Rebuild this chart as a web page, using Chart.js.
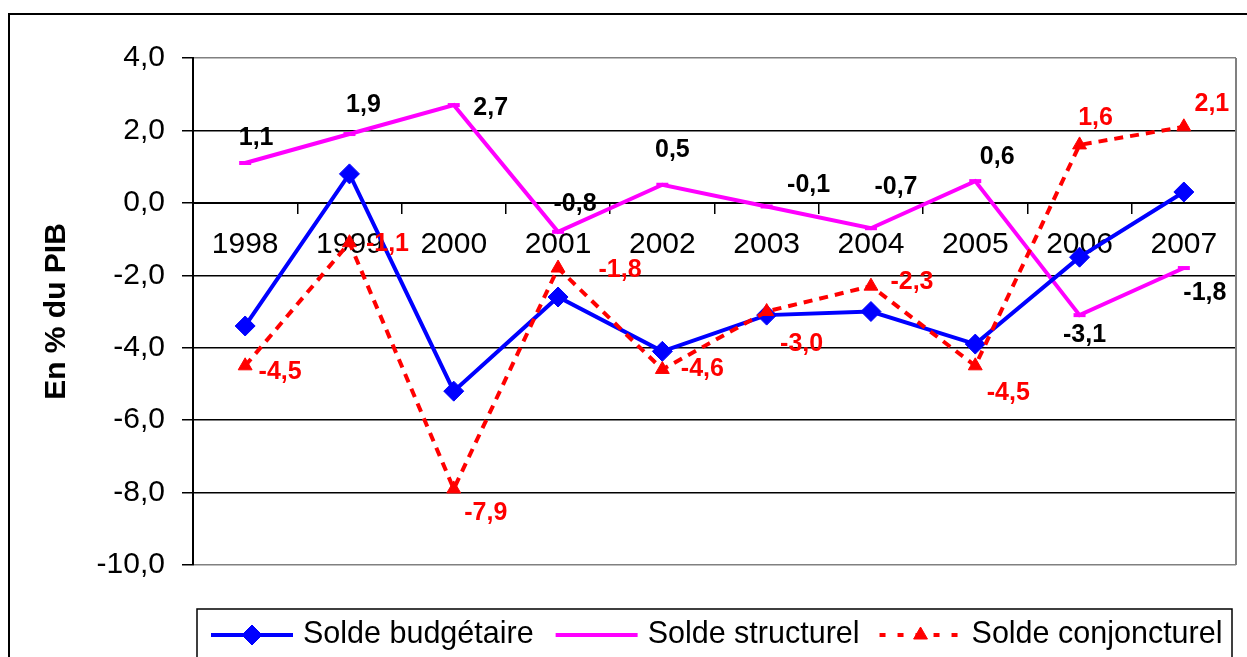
<!DOCTYPE html>
<html>
<head>
<meta charset="utf-8">
<script src="https://cdn.jsdelivr.net/npm/chart.js@4/dist/chart.umd.min.js"></script>
<style>
  html, body { margin: 0; padding: 0; background: #fff; }
  canvas { display: block; }
</style>
</head>
<body>
<canvas id="c" width="1247" height="657"></canvas>
<script>
// ---- Data ----
const categories = ['1998', '1999', '2000', '2001', '2002', '2003', '2004', '2005', '2006', '2007'];
const soldeBudgetaire = [-3.4, 0.8, -5.2, -2.6, -4.1, -3.1, -3.0, -3.9, -1.5, 0.3];
const soldeStructurel = [1.1, 1.9, 2.7, -0.8, 0.5, -0.1, -0.7, 0.6, -3.1, -1.8];
const soldeConjoncturel = [-4.5, -1.1, -7.9, -1.8, -4.6, -3.0, -2.3, -4.5, 1.6, 2.1];
const seriesNames = ['Solde budgétaire', 'Solde structurel', 'Solde conjoncturel'];
const yAxisTitle = 'En % du PIB';
const yMin = -10, yMax = 4, yStep = 2;

// ---- Label placement (presentation only) ----
const structLabelOffsets = [[11,-25],[14,-29],[37,3],[17,-28],[10,-35],[42,-21],[25,-41],[22,-24],[5,20],[21,25]];
const conjLabelOffsets = [[35,6],[38,1],[32,24],[62,2],[40,0],[35,33],[41,-4],[33,27],[16,-27],[28,-23]];
const legendGaps = [22, 20, 0];

const FONT = "'Liberation Sans', Arial, sans-serif";
Chart.defaults.font.family = FONT;
Chart.defaults.color = '#000';

const fmt = v => v.toFixed(1).replace('.', ',');

const frameAndLegend = {
  id: 'frameAndLegend',
  beforeDraw(chart) {
    const ctx = chart.ctx;
    ctx.save();
    ctx.fillStyle = '#fff';
    ctx.fillRect(0, 0, chart.width, chart.height);
    ctx.strokeStyle = '#000';
    ctx.lineWidth = 2;
    ctx.strokeRect(9, 14, chart.width + 20, chart.height + 20);
    ctx.restore();
  },
  beforeDatasetsDraw(chart) {
    const ctx = chart.ctx, a = chart.chartArea;
    ctx.save();
    ctx.strokeStyle = '#808080';
    ctx.lineWidth = 2;
    ctx.beginPath();
    ctx.moveTo(a.right, a.top);
    ctx.lineTo(a.right, a.bottom);
    ctx.stroke();
    ctx.restore();
  },
  afterDatasetsDraw(chart) {
    const ctx = chart.ctx;
    ctx.save();
    ctx.font = 'bold 25px ' + FONT;
    ctx.textAlign = 'center';
    ctx.textBaseline = 'middle';
    const specs = [
      {idx: 1, offs: structLabelOffsets, color: '#000'},
      {idx: 2, offs: conjLabelOffsets, color: '#FF0000'}
    ];
    specs.forEach(s => {
      const meta = chart.getDatasetMeta(s.idx);
      const data = chart.data.datasets[s.idx].data;
      ctx.fillStyle = s.color;
      meta.data.forEach((pt, i) => {
        ctx.fillText(fmt(data[i]), pt.x + s.offs[i][0], pt.y + s.offs[i][1]);
      });
    });
    ctx.restore();
  },
  afterDraw(chart) {
    const ctx = chart.ctx;
    ctx.save();
    // legend box
    ctx.strokeStyle = '#000';
    ctx.lineWidth = 1.5;
    ctx.strokeRect(197, 609, 1035, 80);
    const yc = 635;
    let x = 211;
    ctx.font = '30.5px ' + FONT;
    ctx.textBaseline = 'middle';
    ctx.textAlign = 'left';
    chart.data.datasets.forEach((ds, i) => {
      const len = 82;
      ctx.save();
      ctx.strokeStyle = ds.borderColor;
      ctx.lineWidth = ds.borderWidth;
      ctx.setLineDash(i === 2 ? [6, 12] : []);
      ctx.beginPath();
      ctx.moveTo(x, yc);
      ctx.lineTo(x + len, yc);
      ctx.stroke();
      ctx.restore();
      ctx.save();
      ctx.fillStyle = ds.pointBackgroundColor;
      ctx.strokeStyle = ds.pointBorderColor;
      ctx.lineWidth = ds.pointBorderWidth;
      Chart.helpers.drawPoint(ctx, {pointStyle: ds.pointStyle, radius: ds.pointRadius, rotation: 0, borderWidth: ds.pointBorderWidth}, x + len / 2, yc);
      ctx.restore();
      ctx.fillStyle = '#000';
      const tx = x + len + 10;
      ctx.fillText(ds.label, tx, yc);
      x = tx + ctx.measureText(ds.label).width + legendGaps[i];
    });
    ctx.restore();
  }
};

new Chart(document.getElementById('c'), {
  type: 'line',
  data: {
    labels: categories,
    datasets: [
      {
        label: seriesNames[0], data: soldeBudgetaire,
        borderColor: '#0000FF', backgroundColor: '#0000FF', borderWidth: 4,
        pointStyle: 'rectRot', pointRadius: 10, pointBackgroundColor: '#0000FF',
        pointBorderColor: '#0000FF', pointBorderWidth: 1, order: 1, tension: 0
      },
      {
        label: seriesNames[1], data: soldeStructurel,
        borderColor: '#FF00FF', backgroundColor: '#FF00FF', borderWidth: 4,
        pointStyle: 'line', pointRadius: 6, pointBackgroundColor: '#FF00FF',
        pointBorderColor: '#FF00FF', pointBorderWidth: 4, order: 2, tension: 0
      },
      {
        label: seriesNames[2], data: soldeConjoncturel,
        borderColor: '#FF0000', backgroundColor: '#FF0000', borderWidth: 4,
        borderDash: [9, 7],
        pointStyle: 'triangle', pointRadius: 8, pointBackgroundColor: '#FF0000',
        pointBorderColor: '#FF0000', pointBorderWidth: 1, order: 0, tension: 0
      }
    ]
  },
  options: {
    responsive: false,
    animation: false,
    devicePixelRatio: 1,
    layout: { padding: { top: 58, bottom: 92, right: 5, left: 0 } },
    plugins: { legend: { display: false }, tooltip: { enabled: false }, title: { display: false } },
    scales: {
      x: {
        type: 'category',
        position: { y: 0 },
        offset: true,
        afterFit: s => { s.paddingLeft = 0; s.paddingRight = 0; },
        grid: { display: true, offset: true, drawOnChartArea: false, drawTicks: true, tickLength: 10, color: '#000', lineWidth: 1.5 },
        border: { display: true, color: '#000', width: 2 },
        ticks: { font: { size: 30 }, color: '#000', padding: 14, maxRotation: 0, autoSkip: false }
      },
      y: {
        min: yMin, max: yMax,
        afterFit: s => { s.width = 193; },
        afterBuildTicks: s => {
          const t = [];
          for (let v = yMin; v <= yMax + 1e-9; v += yStep) t.push({ value: v });
          s.ticks = t;
        },
        grid: {
          color: c => (c.tick && (c.tick.value === yMax || c.tick.value === yMin)) ? '#808080' : '#000',
          tickColor: '#000', lineWidth: 1.5, tickLength: 11, drawTicks: true
        },
        border: { display: true, color: '#000', width: 2 },
        ticks: { font: { size: 30 }, color: '#000', padding: 17, callback: v => fmt(v) },
        title: { display: true, text: yAxisTitle, font: { size: 30, weight: 'bold' }, color: '#000', padding: { top: 39, bottom: 0 } }
      }
    }
  },
  plugins: [frameAndLegend]
});
</script>
</body>
</html>
